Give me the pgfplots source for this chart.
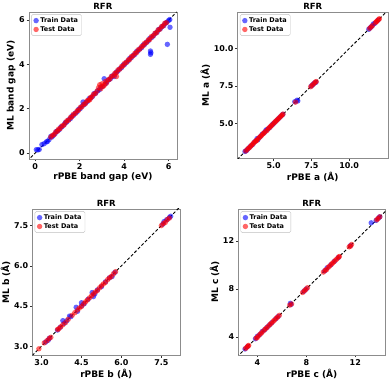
\documentclass[border=0pt]{standalone}
\usepackage{fontspec}
\setmainfont{DejaVu Sans}
\usepackage{pgfplots}
\pgfplotsset{compat=1.18}

\pgfplotsset{
  rfr/.style={
    scale only axis,
    anchor=south west,
    title={RFR},
    every axis title shift=0pt,
    title style={font=\fontsize{8.5}{10}\selectfont\bfseries, at={(0.5,1)}, anchor=south, inner sep=1pt, yshift=1.5pt},
    label style={font=\fontsize{9}{11}\selectfont\bfseries},
    tick label style={font=\fontsize{8}{9}\selectfont\bfseries},
    /pgf/number format/assume math mode=true,
    axis line style={black!45},
    tick style={black!80, line width=0.5pt},
    tick align=outside,
    major tick length=2.5pt,
    xtick pos=bottom, ytick pos=left,
    xticklabel style={inner sep=1.5pt},
    yticklabel style={inner sep=1.5pt},
    x label style={inner sep=2pt},
    y label style={inner sep=2pt},
    legend cell align=left,
    legend style={
      font=\fontsize{6.5}{7.5}\selectfont\bfseries,
      at={(0.015,0.985)}, anchor=north west,
      draw=black!25, rounded corners=1.5pt,
      inner xsep=2pt, inner ysep=1.5pt,
      row sep=-0.5pt,
      nodes={inner sep=1.5pt},
    },
  },
  train/.style={only marks, mark=*, mark size=2.7pt, color=blue,
    mark options={draw opacity=0, fill=blue, fill opacity=0.6}},
  test/.style={only marks, mark=*, mark size=2.7pt, color=red,
    mark options={draw opacity=0, fill=red, fill opacity=0.6}},
  diag/.style={black, line width=0.9pt, dash pattern=on 3pt off 2pt, forget plot},
}

\begin{document}
\begin{tikzpicture}
\path[use as bounding box] (0,0) rectangle (392pt,383pt);

% band gap
\begin{axis}[rfr, at={(29pt,224pt)}, width=147.7pt, height=147pt,
  xmin=-0.28, xmax=6.36, ymin=-0.27, ymax=6.36,
  xtick={0,2,4,6}, ytick={0,2,4,6},
  xlabel={rPBE band gap (eV)}, ylabel={ML band gap (eV)}]
\addplot[train] coordinates {
(0.05,0.15)(0.12,0.14)(0.18,0.16)(0.3,0.38)(0.4,0.42)(0.5,0.5)(0.55,0.52)(0.62,0.6)
(0.7,0.75)(0.75,0.72)(0.82,0.8)(0.9,0.88)(0.95,0.97)(1.0,1.0)(1.08,1.05)(1.15,1.17)
(1.2,1.18)(1.3,1.28)(1.35,1.37)(1.42,1.4)(1.5,1.5)(1.58,1.55)(1.65,1.67)(1.72,1.7)
(1.8,1.8)(1.88,1.85)(1.95,1.97)(2.02,2.0)(2.1,2.12)(2.15,2.3)(2.2,2.18)(2.28,2.27)
(2.35,2.33)(2.42,2.45)(2.5,2.48)(2.58,2.56)(2.65,2.68)(2.72,2.7)(2.8,2.8)(2.88,2.85)
(2.95,2.97)(3.02,3.0)(3.1,3.35)(3.15,3.12)(3.22,3.2)(3.3,3.3)(3.38,3.35)(3.45,3.47)
(3.55,3.45)(3.58,3.56)(3.65,3.65)(3.72,3.7)(3.8,3.8)(3.88,3.85)(3.95,3.97)(4.02,4.0)
(4.1,4.1)(4.18,4.15)(4.25,4.27)(4.32,4.3)(4.4,4.4)(4.48,4.45)(4.55,4.57)(4.62,4.6)
(4.7,4.7)(4.78,4.75)(4.85,4.87)(4.92,4.9)(5.0,5.0)(5.08,5.05)(5.15,5.17)(5.18,4.6)
(5.18,4.45)(5.2,4.52)(5.25,5.22)(5.32,5.3)(5.4,5.4)(5.48,5.45)(5.55,5.57)(5.62,5.6)
(5.7,5.7)(5.78,5.75)(5.85,5.85)(5.92,5.9)(5.94,4.9)(6.0,5.98)(6.05,6.02)(6.06,5.67)
};
\addlegendentry{Train Data}
\addplot[test] coordinates {
(0.7,0.72)(0.78,0.8)(0.85,0.83)(0.92,0.95)(1.0,0.98)(1.05,1.08)(1.12,1.1)(1.2,1.22)
(1.28,1.25)(1.35,1.35)(1.42,1.45)(1.5,1.48)(1.58,1.6)(1.65,1.63)(1.72,1.75)(1.8,1.78)
(1.88,1.9)(1.95,1.93)(2.02,2.05)(2.1,2.08)(2.18,2.2)(2.25,2.22)(2.32,2.35)(2.4,2.38)
(2.45,2.4)(2.48,2.5)(2.55,2.53)(2.62,2.65)(2.7,2.68)(2.78,2.8)(2.85,2.95)(2.9,3.08)
(2.95,2.9)(3.0,3.12)(3.05,3.0)(3.1,3.05)(3.15,3.22)(3.2,3.15)(3.28,3.3)(3.35,3.33)
(3.42,3.45)(3.5,3.48)(3.58,3.6)(3.65,3.45)(3.65,3.62)(3.72,3.75)(3.8,3.78)(3.88,3.9)
(3.95,3.93)(4.02,4.05)(4.1,4.08)(4.18,4.2)(4.25,4.22)(4.32,4.35)(4.4,4.38)(4.48,4.5)
(4.55,4.52)(4.62,4.65)(4.7,4.68)(4.78,4.8)(4.85,4.83)(4.92,4.95)(5.0,4.98)(5.08,5.1)
(5.15,5.12)(5.22,5.25)(5.3,5.28)(5.38,5.4)(5.45,5.42)(5.52,5.55)(5.6,5.58)(5.68,5.7)
(5.75,5.73)(5.82,5.85)(5.9,5.88)
};
\addlegendentry{Test Data}
\addplot[diag] coordinates {(-1,-1) (7,7)};
\end{axis}

% a
\begin{axis}[rfr, at={(237.7pt,224.5pt)}, width=150pt, height=146.5pt,
  xmin=2.62, xmax=12.55, ymin=2.65, ymax=12.45,
  xtick={5,7.5,10}, ytick={5,7.5,10},
  xticklabel={\pgfmathprintnumber[fixed,fixed zerofill,precision=1]{\tick}},
  yticklabel={\pgfmathprintnumber[fixed,fixed zerofill,precision=1]{\tick}},
  xlabel={rPBE a (Å)}, ylabel={ML a (Å)}]
\addplot[train] coordinates {
(3.1,3.12)(3.2,3.18)(3.3,3.3)(3.45,3.45)(3.6,3.58)(3.75,3.77)(3.9,3.98)(3.95,3.9)
(4.1,4.1)(4.25,4.28)(4.4,4.4)(4.5,4.56)(4.6,4.6)(4.75,4.73)(4.9,4.9)(5.0,5.0)
(5.15,5.15)(5.3,5.3)(5.45,5.45)(5.6,5.6)(6.4,6.45)(6.55,6.55)(6.6,6.5)(7.5,7.5)
(7.6,7.6)(7.7,7.7)(7.8,7.75)(11.3,11.3)(11.4,11.4)(11.5,11.5)(11.6,11.65)(11.7,11.7)
(11.9,11.9)
};
\addlegendentry{Train Data}
\addplot[test] coordinates {
(3.15,3.15)(3.25,3.25)(3.35,3.35)(3.4,3.38)(3.5,3.5)(3.55,3.55)(3.65,3.65)(3.7,3.72)
(3.8,3.8)(3.85,3.85)(3.9,3.88)(4.0,4.0)(4.05,4.05)(4.15,4.15)(4.2,4.2)(4.3,4.3)
(4.35,4.35)(4.45,4.45)(4.55,4.52)(4.65,4.65)(4.7,4.7)(4.8,4.8)(4.85,4.85)(4.95,4.95)
(5.05,5.05)(5.1,5.1)(5.2,5.2)(5.25,5.25)(5.35,5.35)(5.4,5.4)(5.5,5.5)(5.55,5.55)
(5.62,5.62)(6.45,6.42)(7.45,7.45)(7.55,7.55)(7.65,7.65)(7.75,7.75)(7.82,7.8)
(11.35,11.35)(11.45,11.45)(11.55,11.55)(11.75,11.75)(11.8,11.8)(11.85,11.85)
(11.95,11.95)(12.0,12.0)
};
\addlegendentry{Test Data}
\addplot[diag] coordinates {(0,0) (14,14)};
\end{axis}

% b
\begin{axis}[rfr, at={(32.5pt,27.5pt)}, width=147.5pt, height=146.5pt,
  xmin=2.66, xmax=8.2, ymin=2.65, ymax=8.12,
  xtick={3,4.5,6,7.5}, ytick={3,4.5,6,7.5},
  xticklabel={\pgfmathprintnumber[fixed,fixed zerofill,precision=1]{\tick}},
  yticklabel={\pgfmathprintnumber[fixed,fixed zerofill,precision=1]{\tick}},
  xlabel={rPBE b (Å)}, ylabel={ML b (Å)}]
\addplot[train] coordinates {
(3.15,3.15)(3.25,3.22)(3.3,3.3)(3.6,3.6)(3.7,3.7)(3.8,3.95)(3.85,3.85)(3.95,3.95)
(4.05,4.12)(4.1,4.1)(4.3,4.45)(4.35,4.3)(4.5,4.5)(4.5,4.62)(4.6,4.58)(4.75,4.75)
(4.9,5.0)(4.95,4.85)(5.0,4.95)(5.1,5.1)(5.25,5.22)(5.4,5.4)(5.55,5.55)(5.65,5.6)
(5.75,5.75)(7.55,7.55)(7.6,7.65)(7.7,7.72)(7.8,7.8)(7.85,7.85)
};
\addlegendentry{Train Data}
\addplot[test] coordinates {
(2.9,2.9)(3.1,3.12)(3.2,3.2)(3.28,3.28)(3.35,3.33)(3.6,3.62)(3.65,3.65)(3.72,3.72)
(3.8,3.8)(3.9,3.88)(4.0,4.0)(4.15,4.15)(4.25,4.25)(4.35,4.35)(4.42,4.42)(4.5,4.48)
(4.58,4.58)(4.65,4.65)(4.72,4.72)(4.8,4.8)(4.88,4.88)(4.95,4.95)(5.02,5.02)(5.1,5.08)
(5.18,5.18)(5.25,5.25)(5.32,5.32)(5.4,5.38)(5.48,5.48)(5.55,5.55)(5.62,5.6)(5.7,5.7)
(5.78,5.78)(7.5,7.5)(7.58,7.58)(7.65,7.62)(7.72,7.72)(7.8,7.78)
};
\addlegendentry{Test Data}
\addplot[diag] coordinates {(0,0) (10,10)};
\end{axis}

% c
\begin{axis}[rfr, at={(238.3pt,28pt)}, width=147pt, height=146pt,
  xmin=2.45, xmax=14.45, ymin=2.5, ymax=14.65,
  xtick={4,8,12}, ytick={4,8,12},
  xlabel={rPBE c (Å)}, ylabel={ML c (Å)}]
\addplot[train] coordinates {
(3.0,3.0)(3.2,3.2)(3.85,3.85)(4.0,4.05)(4.2,4.2)(4.4,4.45)(4.6,4.6)(4.8,4.8)
(5.0,5.0)(5.2,5.2)(5.5,5.5)(5.7,5.7)(6.7,6.8)(6.75,6.7)(7.8,7.8)(8.0,8.0)
(9.5,9.5)(9.7,9.75)(10.0,10.0)(10.3,10.3)(10.6,10.6)(11.6,11.6)(13.3,13.5)(13.7,13.7)
(13.9,13.9)(14.0,14.0)
};
\addlegendentry{Train Data}
\addplot[test] coordinates {
(3.05,3.05)(3.15,3.15)(3.25,3.25)(3.3,3.3)(3.9,3.9)(4.0,3.95)(4.1,4.1)(4.25,4.25)
(4.35,4.35)(4.5,4.5)(4.65,4.65)(4.75,4.75)(4.9,4.9)(5.05,5.05)(5.15,5.15)(5.3,5.3)
(5.4,5.4)(5.55,5.55)(5.65,5.65)(5.8,5.8)(6.65,6.65)(6.8,6.75)(7.7,7.7)(7.85,7.85)
(7.95,7.95)(8.1,8.1)(9.4,9.4)(9.55,9.55)(9.65,9.6)(9.8,9.8)(9.9,9.9)(10.05,10.05)
(10.15,10.15)(10.25,10.25)(10.4,10.4)(10.5,10.5)(10.65,10.65)(10.7,10.7)(11.5,11.5)
(11.6,11.55)(11.7,11.7)(13.75,13.75)(13.85,13.85)(14.0,14.0)
};
\addlegendentry{Test Data}
\addplot[diag] coordinates {(0,0) (16,16)};
\end{axis}
\end{tikzpicture}
\end{document}
